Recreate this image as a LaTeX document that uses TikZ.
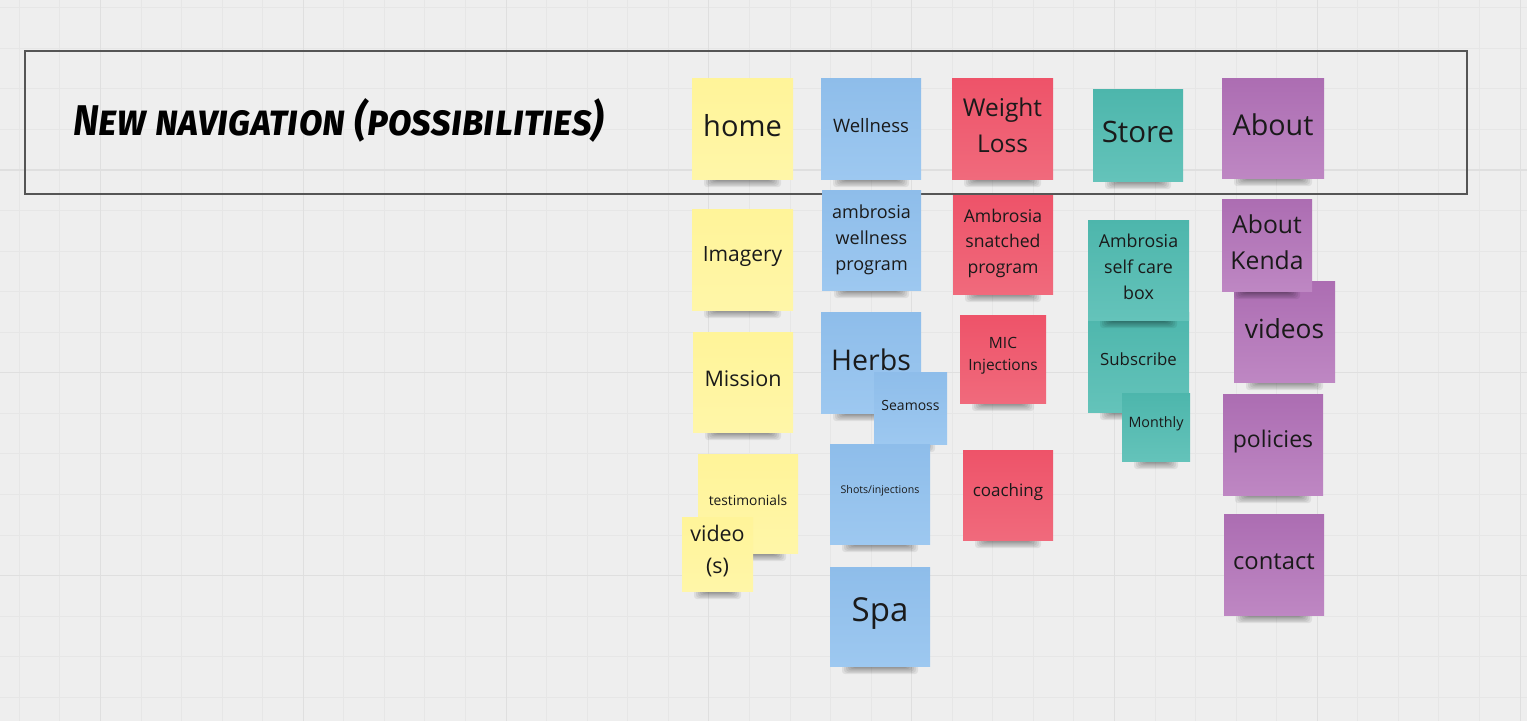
\documentclass[tikz,border=0pt]{standalone}
\usepackage{fontspec}
\usepackage{graphicx}
\setmainfont{Open Sans}
\newfontfamily\titlefont{Fira Sans}[Letters=SmallCaps]
\definecolor{bgcol}{HTML}{EEEEEE}
\definecolor{minorcol}{HTML}{E6E6E6}
\definecolor{majorcol}{HTML}{DFDFDF}
\definecolor{framecol}{HTML}{555555}
\definecolor{txtcol}{HTML}{1A1A1A}
\definecolor{yeltop}{HTML}{FFF499}
\definecolor{yelbot}{HTML}{FFF6A8}
\definecolor{blutop}{HTML}{8EBDEA}
\definecolor{blubot}{HTML}{9DC8F0}
\definecolor{redtop}{HTML}{EE5369}
\definecolor{redbot}{HTML}{F06A7C}
\definecolor{tealtop}{HTML}{4DB6AC}
\definecolor{tealbot}{HTML}{64C3BA}
\definecolor{purtop}{HTML}{AC6DB2}
\definecolor{purbot}{HTML}{BE87C3}
\tikzset{
  note/.style={inner sep=0pt, draw=none},
  notetext/.style={inner sep=0pt, align=center, text=txtcol},
  framebox/.style={draw=framecol, line width=1.5pt, inner sep=0pt},
  minorline/.style={draw=minorcol, line width=1pt},
  majorline/.style={draw=majorcol, line width=1.1pt}
}
\newcommand{\sticky}[9][3]{%
  \foreach \k in {0,...,5}{\fill[black,opacity=0.07,rounded corners=3pt] ({#3+12+2*\k},{#6-5}) rectangle ({#5-12-2*\k},{#6+8-1.2*\k});}
  \node[note,top color=#7top,bottom color=#7bot,minimum width={(#5-#3)*1pt},minimum height={(#6-#4)*1pt}] (#2) at ({(#3+#5)/2},{(#4+#6)/2}) {};
  \node[notetext,font={\fontsize{#8}{\dimexpr#8pt*29/20\relax}\selectfont}] (#2-t) at ([yshift=#1pt]#2.center) {#9};
}
\begin{document}
\begin{tikzpicture}[x=1pt,y=-1pt]
\useasboundingbox (0,0) rectangle (1527,721);
\fill[bgcol] (0,0) rectangle (1527,721);
\begin{scope}
\clip (0,0) rectangle (1527,721);
\foreach \i in {-3,...,36} \draw[minorline] ({100.5+\i*40.56},0) -- ({100.5+\i*40.56},721);
\foreach \i in {-5,...,14} \draw[minorline] (0,{170+\i*40.56}) -- (1527,{170+\i*40.56});
\foreach \i in {-1,...,7} \draw[majorline] ({100.5+\i*202.8},0) -- ({100.5+\i*202.8},721);
\foreach \i in {-1,...,3} \draw[majorline] (0,{170+\i*202.8}) -- (1527,{170+\i*202.8});
\end{scope}
\node[framebox, minimum width=1442pt, minimum height=143pt] (frame) at (746,122.5) {};
\node[anchor=base west, inner sep=0pt, text=black] (title) at (73,135)
  {\resizebox{531pt}{\height}{\titlefont\fontsize{43}{48}\selectfont\bfseries\itshape New navigation (possibilities)}};
% yellow
\sticky{home}{692}{78}{793}{179}{yel}{29}{home}
\sticky{imagery}{692}{209}{793}{310}{yel}{21}{Imagery}
\sticky{mission}{693}{332}{793}{432}{yel}{21.5}{Mission}
\sticky{testim}{698}{454}{798}{553}{yel}{13.8}{testimonials}
\sticky{videos1}{682}{517}{753}{591}{yel}{21.5}{video\\(s)}
% blue
\sticky{wellness}{821}{78}{921}{179}{blu}{18.5}{Wellness}
\sticky[0]{awp}{822}{190}{921}{290}{blu}{18}{ambrosia\\wellness\\program}
\sticky{herbs}{821}{312}{921}{413}{blu}{28.5}{Herbs}
\sticky{seamoss}{874}{372}{947}{444}{blu}{14}{Seamoss}
\sticky{shots}{830}{444}{930}{544}{blu}{10.6}{Shots/injections}
\sticky{spa}{830}{567}{930}{666}{blu}{33}{Spa}
% red
\sticky{weight}{952}{78}{1053}{179}{red}{24.5}{Weight\\Loss}
\sticky[1.5]{asp}{953}{195}{1053}{294}{red}{17.6}{Ambrosia\\snatched\\program}
\sticky{mic}{960}{315}{1046}{403}{red}{15.5}{MIC\\Injections}
\sticky{coaching}{963}{450}{1053}{540}{red}{17}{coaching}
% teal
\sticky{store}{1093}{89}{1183}{181}{teal}{29.5}{Store}
\sticky{subscribe}{1088}{312}{1189}{412}{teal}{16.8}{Subscribe}
\sticky{selfcare}{1088}{220}{1189}{320}{teal}{17.8}{Ambrosia\\self care\\box}
\sticky{monthly}{1122}{393}{1190}{461}{teal}{14.3}{Monthly}
% purple
\sticky{about}{1222}{78}{1324}{178}{pur}{28.7}{About}
\sticky{vids}{1234}{281}{1335}{382}{pur}{26.3}{videos}
\sticky{kenda}{1222}{199}{1312}{291}{pur}{24.7}{About\\Kenda}
\sticky{policies}{1223}{394}{1323}{495}{pur}{23}{policies}
\sticky{contact}{1224}{514}{1324}{615}{pur}{23.8}{contact}
\end{tikzpicture}
\end{document}
